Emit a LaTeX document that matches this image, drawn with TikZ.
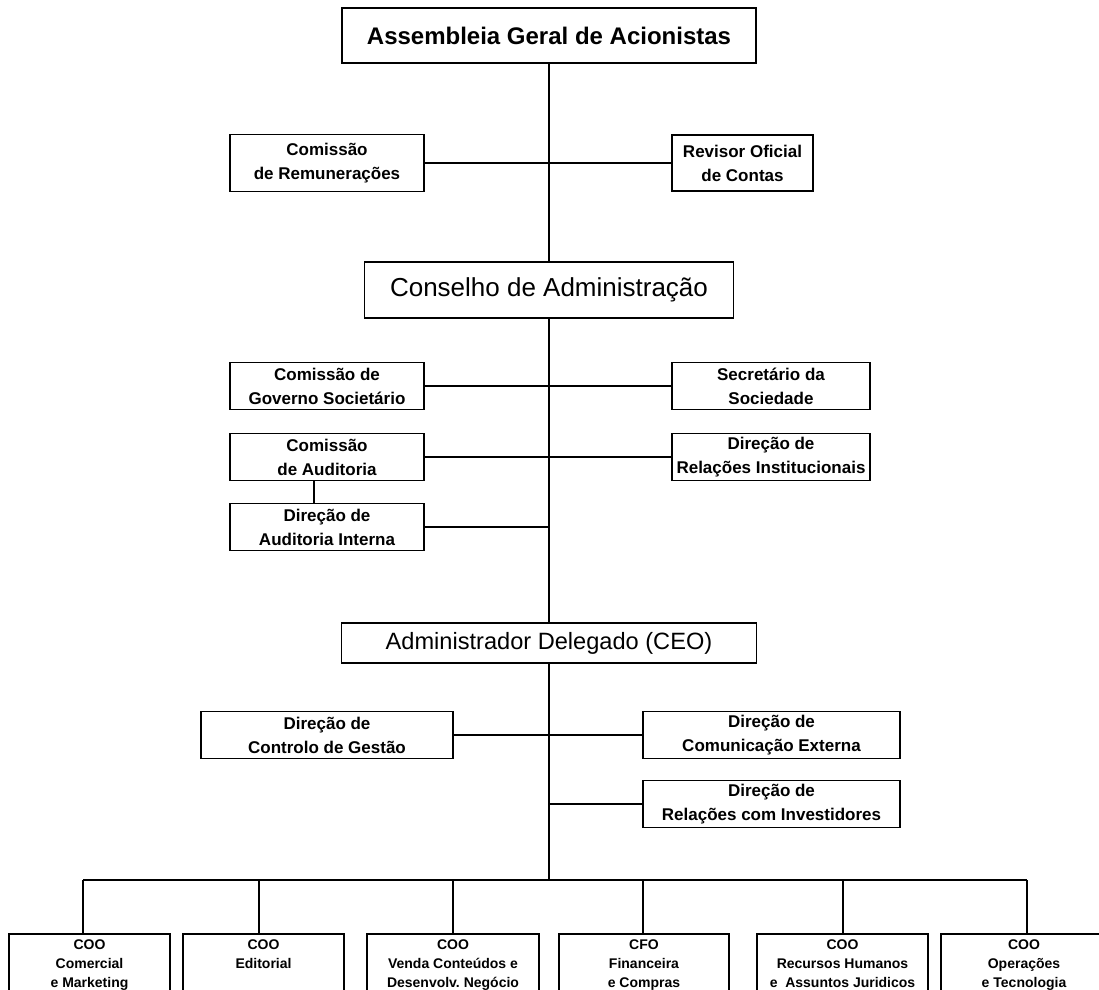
\documentclass[tikz,border=0pt]{standalone}
\usepackage{fontspec}
\setmainfont{Liberation Sans}
\usepackage{tikz}
\usetikzlibrary{positioning}

\newcommand{\boxfoot}{\rule[-9pt]{0pt}{9pt}}

\begin{document}
\begin{tikzpicture}[x=0.75pt, y=-0.75pt,
    head/.style={rectangle, draw, line width=1.3pt, inner sep=0pt, align=center},
    block/.style={rectangle, draw, line width=1.3pt, inner sep=0pt, align=center, minimum height=35.25pt, font=\bfseries\fontsize{12.75}{18}\selectfont},
    coo/.style={rectangle, draw, line width=1.3pt, inner xsep=0pt, inner ysep=4.5pt, anchor=north, align=center, font=\bfseries\fontsize{10.5}{14.25}\selectfont},
    line/.style={draw, line width=1.3pt}]

    \useasboundingbox (0,0) rectangle (1099,989);

    % Nodes
    \node [head, minimum width=310.5pt, minimum height=41.25pt, font=\bfseries\fontsize{18}{22}\selectfont] (asm) at (549,35.5) {Assembleia Geral de Acionistas};
    \node [block, minimum width=145.5pt, minimum height=42.75pt] (rem) at (327,163) {Comissão\\de Remunerações};
    \node [block, minimum width=105.75pt, minimum height=42pt] (rev) at (742.5,163) {Revisor Oficial\\de Contas};
    \node [head, minimum width=276.75pt, minimum height=42pt, font=\fontsize{19.5}{23}\selectfont] (con) at (549,290) {Conselho de Administração};
    \node [block, minimum width=145.5pt] (gov) at (327,386) {Comissão de\\Governo Societário};
    \node [block, minimum width=148.5pt] (sec) at (771,386) {Secretário da\\Sociedade};
    \node [block, minimum width=145.5pt] (aud) at (327,457) {Comissão\\de Auditoria};
    \node [block, minimum width=148.5pt] (inst) at (771,457) {Direção de\\Relações Institucionais};
    \node [block, minimum width=145.5pt] (audint) at (327,527) {Direção de\\Auditoria Interna};
    \node [head, minimum width=311.25pt, minimum height=30pt, font=\fontsize{17.7}{21}\selectfont] (ceo) at (549,643) {Administrador Delegado (CEO)};
    \node [block, minimum width=189pt] (ctrl) at (327,735) {Direção de\\Controlo de Gestão};
    \node [block, minimum width=192.75pt] (com) at (771.5,735) {Direção de\\Comunicação Externa};
    \node [block, minimum width=192.75pt] (inv) at (771.5,804) {Direção de\\Relações com Investidores};

    \node [coo, minimum width=120.75pt] (coo1) at (89.5,933) {COO\\Comercial\\e Marketing\boxfoot};
    \node [coo, minimum width=120.75pt] (coo2) at (263.5,933) {COO\\Editorial\\\boxfoot};
    \node [coo, minimum width=129pt] (coo3) at (453,933) {COO\\Venda Conteúdos e\\Desenvolv.\ Negócio\boxfoot};
    \node [coo, minimum width=127.5pt] (coo4) at (644,933) {CFO\\Financeira\\e Compras\boxfoot};
    \node [coo, minimum width=128.25pt] (coo5) at (842.5,933) {COO\\Recursos Humanos\\e~~Assuntos Juridicos\boxfoot};
    \node [coo, minimum width=124.5pt] (coo6) at (1024,933) {COO\\Operações\\e Tecnologia\boxfoot};

    \coordinate (alink) at (314,480);
    \coordinate (bus) at (549,880);
    \coordinate (d1) at (83,880);
    \coordinate (d2) at (259,880);
    \coordinate (d3) at (453,880);
    \coordinate (d4) at (643,880);
    \coordinate (d5) at (843,880);
    \coordinate (d6) at (1027,880);

    % Paths
    \path [line] (asm) -- (con);
    \path [line] (rem) -- (rev);
    \path [line] (con) -- (ceo);
    \path [line] (gov) -- (sec);
    \path [line] (aud) -- (inst);
    \path [line] (alink) -- (alink |- audint.north);
    \path [line] (audint.east) -- (audint.east -| con.south);
    \path [line] (ctrl) -- (com);
    \path [line] (inv.west) -- (inv.west -| ceo.south);
    \path [line] (ceo) -- (bus);
    \path [line] (d1) -- (d6);
    \foreach \i in {1,...,6}
        \path [line] (d\i) -- (d\i |- coo\i.north);

\end{tikzpicture}
\end{document}
